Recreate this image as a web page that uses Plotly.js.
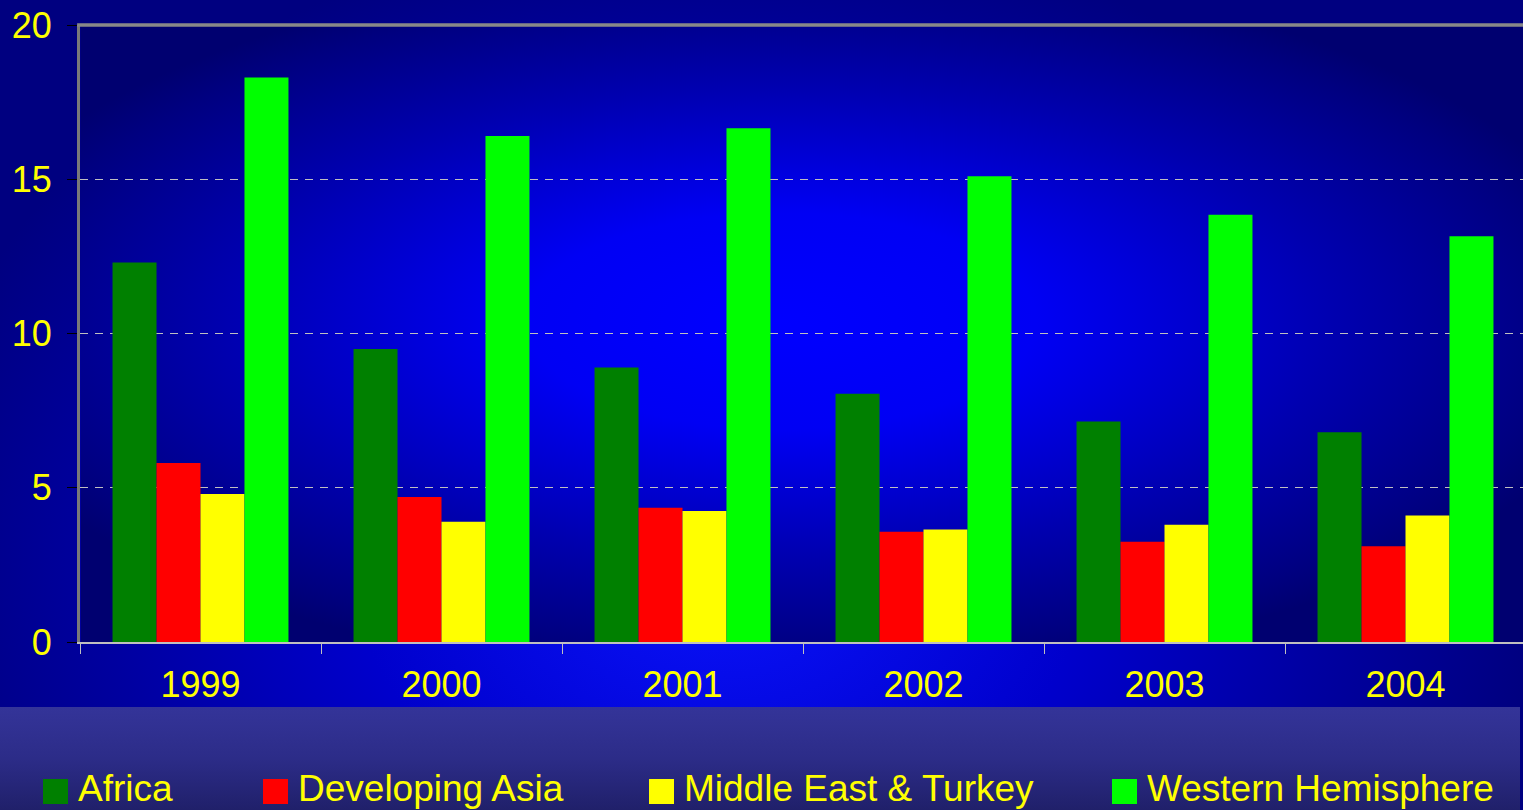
<!DOCTYPE html>
<html>
<head>
<meta charset="utf-8">
<script src="https://cdn.plot.ly/plotly-3.0.1.min.js"></script>
<style>
  html, body { margin: 0; padding: 0; background: #000080; overflow: hidden; }
  #wrap { position: relative; width: 1523px; height: 810px; overflow: hidden; }
  #bgTop { position: absolute; left: 0; top: 0; width: 1523px; height: 707px;
    background: radial-gradient(ellipse 820px 640px at 720px 560px, #0a14ff 0%, #0000cc 45%, #0000a0 75%, #000080 100%); }
  #bgLegend { position: absolute; left: 0; top: 707px; width: 1520px; height: 103px;
    background: linear-gradient(to bottom, #343499 0%, #2c2c88 50%, #20206a 100%); }
  #bgPlot { position: absolute; left: 81px; top: 26px; width: 1445px; height: 616px;
    background: radial-gradient(ellipse 850px 360px at 700px 295px, #0000ff 0%, #0000f4 30%, #0000b0 65%, #000080 92%, #000070 100%); }
  #chart { position: absolute; left: 0; top: 0; }
</style>
</head>
<body>
<div id="wrap">
  <div id="bgTop"></div>
  <div id="bgLegend"></div>
  <div id="bgPlot"></div>
  <div id="chart"></div>
</div>
<script>
// ---- data ----
const years = ['1999', '2000', '2001', '2002', '2003', '2004'];
const seriesNames = ['Africa', 'Developing Asia', 'Middle East & Turkey', 'Western Hemisphere'];
const africa = [12.3, 9.5, 8.9, 8.05, 7.15, 6.8];
const developingAsia = [5.8, 4.7, 4.35, 3.57, 3.25, 3.1];
const middleEastTurkey = [4.8, 3.9, 4.25, 3.65, 3.8, 4.1];
const westernHemisphere = [18.3, 16.4, 16.65, 15.1, 13.85, 13.15];
const yTickValues = [0, 5, 10, 15, 20];
const yTickLabels = ['0', '5', '10', '15', '20'];

// ---- styling ----
const seriesColors = ['#008000', '#ff0000', '#ffff00', '#00ff00'];
const seriesValues = [africa, developingAsia, middleEastTurkey, westernHemisphere];
const legendPixelX = [43, 263, 649, 1112];
const W = 1526, H = 810;
const M = { l: 80, r: 0, t: 25, b: 168 };
const plotW = W - M.l - M.r, plotH = H - M.t - M.b;
const px2paperX = px => (px - M.l) / plotW;
const py2paperY = py => (H - M.b - py) / plotH;
const textFont = 'Liberation Sans, Arial, sans-serif';

const traces = seriesNames.map((name, i) => ({
  type: 'bar',
  name: name,
  x: years,
  y: seriesValues[i],
  marker: { color: seriesColors[i], line: { width: 0 } },
  hoverinfo: 'x+y+name'
}));

const shapes = [
  // top frame line
  { type: 'line', xref: 'paper', yref: 'paper', x0: -0.002, x1: 1, y0: 1, y1: 1,
    line: { color: '#888888', width: 3.5 } }
];
const annotations = [];
seriesNames.forEach((name, i) => {
  const sx = legendPixelX[i];
  shapes.push({
    type: 'rect', xref: 'paper', yref: 'paper',
    x0: px2paperX(sx), x1: px2paperX(sx + 25),
    y0: py2paperY(804), y1: py2paperY(779),
    fillcolor: seriesColors[i], line: { width: 0 }
  });
  annotations.push({
    xref: 'paper', yref: 'paper',
    x: px2paperX(sx + 33), y: py2paperY(788),
    xanchor: 'left', yanchor: 'middle',
    text: name, showarrow: false,
    font: { family: textFont, size: 37, color: '#ffff00' }
  });
});

const layout = {
  width: W, height: H,
  margin: M,
  paper_bgcolor: 'rgba(0,0,0,0)',
  plot_bgcolor: 'rgba(0,0,0,0)',
  barmode: 'group',
  bargap: 0.27,
  bargroupgap: 0,
  showlegend: false,
  font: { family: textFont, color: '#ffff00', size: 36 },
  xaxis: {
    type: 'category',
    tickson: 'boundaries',
    ticks: 'outside', ticklen: 10, tickwidth: 1, tickcolor: '#c0c0c0',
    showline: true, linecolor: '#c0c0c0', linewidth: 2,
    showgrid: false, zeroline: false,
    tickfont: { family: textFont, size: 36, color: '#ffff00' },
    ticklabelstandoff: 10
  },
  yaxis: {
    range: [0, 20],
    tickvals: yTickValues, ticktext: yTickLabels,
    ticks: 'outside', ticklen: 10, tickwidth: 1, tickcolor: '#000000',
    showline: true, linecolor: '#7a7a7a', linewidth: 3,
    showgrid: true, gridcolor: '#c0c0c0', gridwidth: 1, griddash: '8px,7px',
    zeroline: false,
    tickfont: { family: textFont, size: 36, color: '#ffff00' },
    ticklabelstandoff: 8
  },
  shapes: shapes,
  annotations: annotations
};

Plotly.newPlot('chart', traces, layout, { displayModeBar: false, staticPlot: true });
</script>
</body>
</html>
